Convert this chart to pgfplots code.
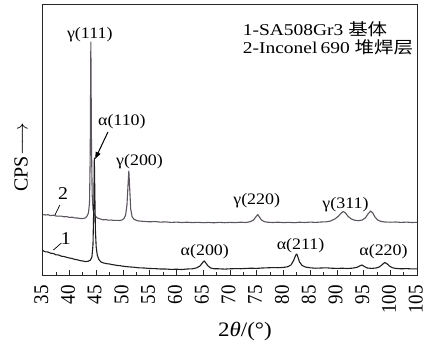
\documentclass[border=0pt]{standalone}
\usepackage{pgfplots}
\pgfplotsset{compat=1.18}
\usetikzlibrary{arrows.meta}
\usepackage{fontspec}
\setmainfont{Liberation Serif}
\newfontfamily\cjk{Noto Sans CJK SC}
\definecolor{ctwo}{rgb}{0.36,0.33,0.37}
\definecolor{cone}{rgb}{0.12,0.12,0.12}
\begin{document}
\begin{tikzpicture}
\begin{axis}[
  scale only axis, width=374.5pt, height=270pt,
  xmin=35, xmax=105, ymin=0, ymax=270,
  xtick={35,40,...,105}, minor x tick num=1,
  ytick=\empty,
  xtick pos=bottom,
  tick align=inside,
  major tick length=5pt, minor tick length=3pt,
  axis line style={line width=1pt, black!85},
  every tick/.style={line width=0.9pt, black!85},
  /pgf/number format/assume math mode=true,
  xticklabel style={rotate=90, anchor=east, inner sep=0pt, xshift=-10pt, yshift=1.5pt, yscale=1.1, font=\fontsize{19}{19}\selectfont},
  xlabel={2\textit{θ}/(°)},
  xlabel style={at={(axis description cs:0.54,0)}, anchor=center, yshift=-57pt, xscale=1.12, font=\fontsize{20.5}{20.5}\selectfont},
  ylabel={CPS$\longrightarrow$},
  ylabel style={at={(axis description cs:-0.058,0.437)}, anchor=center, font=\fontsize{20}{20}\selectfont},
  clip=false,
]
\coordinate (sw) at (rel axis cs:0,0);
\coordinate (ne) at (rel axis cs:1,1);
% curve 2: Inconel 690 cladding
\addplot[ctwo, line width=1.1pt, line join=round] coordinates {
(35,60.5) (35.5,60) (36,60.3) (36.5,59.4) (37,59.8) (37.5,59) (38,58.8) (38.5,58.9) (39,58.2) (39.5,58.4)
(40,57.6) (40.5,57.8) (41,57.1) (41.5,57) (42,56.5) (42.5,56.4) (43.0,57.2) (43.3,59) (43.55,62) (43.75,72)
(43.88,120) (44.0,233) (44.12,130) (44.25,80) (44.4,66) (44.6,61) (44.9,58.5) (45.3,56.8) (45.8,56) (46.3,55.2)
(46.8,55.4) (47.3,54.8) (47.8,55) (48.3,54.6) (48.8,54.7) (49.3,54.5) (49.8,55) (50.2,56.5) (50.5,60) (50.75,70)
(50.95,90) (51.1,104) (51.25,88) (51.45,66) (51.7,58.5) (52.0,56) (52.5,54.6) (53,54) (53.5,53.8) (54,53.6)
(55,53.2) (56,53.5) (57,52.9) (58,53.1) (59,52.6) (60,52.9) (61,52.5) (62,52.8) (63,52.4) (64,52.7)
(65,52.3) (66,52.6) (67,52.2) (68,52.7) (69,52.3) (70,52.6) (71,52.4) (72,52.8) (73,52.5) (73.8,53.3)
(74.4,55) (74.9,58.5) (75.2,60.5) (75.5,58) (75.9,55) (76.4,53.4) (77,52.8) (78,52.5) (79,52.8) (80,52.4)
(81,52.7) (82,52.3) (83,52.8) (84,52.5) (85,52.9) (86,52.6) (87,53) (88,53.2) (88.8,54) (89.6,56)
(90.3,59) (90.8,62) (91.2,63.5) (91.6,62) (92.1,58.5) (92.7,56) (93.3,54.8) (94,54.3) (94.7,55) (95.3,57)
(95.8,61) (96.3,64) (96.7,62) (97.1,58) (97.6,55) (98.2,53.6) (99,53) (100,52.8) (101,53) (102,52.6)
(103,52.9) (104,52.5) (105,52.7)
};
% curve 1: SA508Gr3 base metal
\addplot[cone, line width=1.1pt, line join=round] coordinates {
(35,24.5) (35.5,23.2) (36,23) (36.5,21.8) (37,21.5) (37.5,20.2) (38,20) (38.5,18.8) (39,18.5) (39.5,17.6)
(40,17) (40.5,16.5) (41,15.6) (41.5,15.2) (42,14.4) (42.5,14) (43,13.4) (43.5,13.8) (43.9,14.8) (44.2,18)
(44.4,30) (44.55,70) (44.65,117) (44.75,80) (44.85,45) (45.0,28) (45.2,20) (45.5,15.5) (45.9,13) (46.4,12)
(47,11.3) (47.5,11) (48,10.4) (48.5,10) (49,9.5) (49.5,9.3) (50,8.8) (51,8.2) (52,7.8) (53,7.2)
(54,7) (55,6.5) (56,6.4) (57,6) (58,6) (59,5.6) (60,5.8) (61,5.5) (62,6) (63,6.2)
(63.8,7.2) (64.4,9) (64.9,12.5) (65.2,14) (65.5,12) (65.9,9) (66.4,7) (67,6.3) (68,6.2) (69,5.9)
(70,6.2) (71,6.4) (72,6.3) (73,6.6) (74,6.8) (75,6.6) (76,7) (77,7.2) (78,7.4) (79,7.3)
(80,7.6) (80.8,8.3) (81.4,10) (81.9,14.5) (82.3,20) (82.5,21) (82.7,18) (83.0,13) (83.5,9.5) (84.1,8)
(85,7.2) (86,6.8) (87,7) (88,7.2) (89,6.8) (90,6.6) (91,6.8) (92,6.5) (93,6.9) (93.8,7.8)
(94.4,9.5) (94.7,10) (95.1,8.5) (95.7,7) (96.5,6.6) (97.3,7) (97.9,8) (98.5,10.5) (98.9,12.5) (99.3,11.5)
(99.8,9) (100.4,7.2) (101,6.6) (102,6.2) (103,6.4) (104,6.1) (105,6.2)
};
% annotations
\begin{scope}[font=\fontsize{16}{16}\selectfont]
\node[xscale=1.12] at (axis cs:43.8,240) {γ(111)};
\node[xscale=1.12] at (axis cs:49.8,153) {α(110)};
\node[xscale=1.12] at (axis cs:53.1,113) {γ(200)};
\node[xscale=1.12] at (axis cs:75.0,74) {γ(220)};
\node[xscale=1.12] at (axis cs:91.6,70) {γ(311)};
\node[xscale=1.12] at (axis cs:65.3,23) {α(200)};
\node[xscale=1.12] at (axis cs:83.2,29) {α(211)};
\node[xscale=1.12] at (axis cs:98.7,23) {α(220)};
\node[font=\fontsize{18}{18}\selectfont, xscale=1.1] at (axis cs:39.3,36) {1};
\node[font=\fontsize{18}{18}\selectfont, xscale=1.1] at (axis cs:38.8,81) {2};
\end{scope}
\draw[line width=1pt, -{Triangle[length=7pt,width=5pt]}] (axis cs:47.2,143) -- (axis cs:44.8,116);
\draw[line width=0.7pt] (axis cs:37.0,25) -- (axis cs:38.5,32);
\draw[line width=0.7pt] (axis cs:37.3,60) -- (axis cs:38.2,70);
\node[anchor=base west, inner sep=0pt, xscale=1.18, font=\fontsize{16.5}{16.5}\selectfont] at (axis cs:72.36,240)
  {1-SA508Gr3 {\cjk 基体}};
\node[anchor=base west, inner sep=0pt, xscale=1.18, font=\fontsize{16.5}{16.5}\selectfont] at (axis cs:72.36,222)
  {2-Inconel\,690 {\cjk 堆焊层}};
\end{axis}
\pgfresetboundingbox
\path[use as bounding box] ([shift={(-42.7pt,-68pt)}]sw) rectangle ([shift={(10.8pt,5pt)}]ne);
\end{tikzpicture}
\end{document}
